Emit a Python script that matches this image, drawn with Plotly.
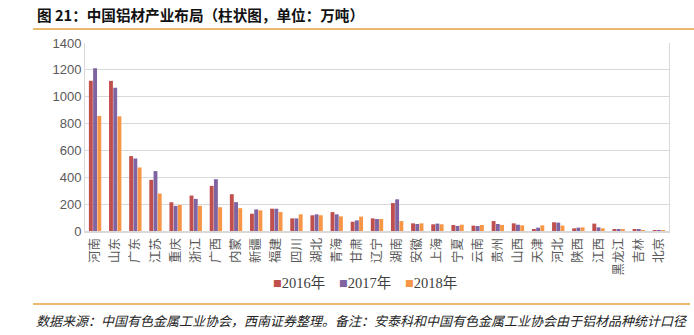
import plotly.graph_objects as go

# Aluminium product output by province (10k tonnes)
provinces = ["河南", "山东", "广东", "江苏", "重庆", "浙江", "广西", "内蒙", "新疆", "福建",
             "四川", "湖北", "青海", "甘肃", "辽宁", "湖南", "安徽", "上海", "宁夏", "云南",
             "贵州", "山西", "天津", "河北", "陕西", "江西", "黑龙江", "吉林", "北京"]
y2016 = [1118, 1118, 558, 381, 214, 264, 336, 274, 129, 166,
         94, 117, 141, 69, 94, 208, 57, 50, 45, 40,
         74, 57, 12, 65, 20, 55, 12, 15, 3]
y2017 = [1212, 1066, 540, 446, 187, 239, 386, 215, 161, 166,
         94, 124, 124, 79, 89, 236, 52, 55, 38, 37,
         52, 47, 25, 62, 25, 27, 12, 15, 3]
y2018 = [857, 854, 473, 279, 194, 187, 177, 170, 154, 141,
         124, 117, 109, 107, 89, 74, 57, 50, 47, 45,
         45, 42, 42, 40, 27, 20, 12, 7, 3]
series_names = ["2016年", "2017年", "2018年"]
series_colors = ["#C0504D", "#8064A2", "#F79646"]

W, H = 694, 335
L, R, T, B = 85, 669, 43, 231  # plot area in pixels


def px_x(px):
    return (px - L) / (R - L)


def px_y(py):
    return (B - py) / (B - T)


fig = go.Figure()
for name, vals, col in zip(series_names, [y2016, y2017, y2018], series_colors):
    fig.add_trace(go.Bar(x=provinces, y=vals, name=name, marker_color=col,
                         marker_line_width=0, showlegend=False))

accent = "#E5A23A"
shapes = [
    dict(type="line", xref="paper", yref="paper", x0=px_x(33), x1=px_x(694),
         y0=px_y(29), y1=px_y(29), line=dict(color=accent, width=1.5)),
    dict(type="line", xref="paper", yref="paper", x0=px_x(33), x1=px_x(690),
         y0=px_y(304), y1=px_y(304), line=dict(color=accent, width=1.5)),
]

annotations = [
    dict(text="<b>图 21：中国铝材产业布局（柱状图，单位：万吨）</b>", xref="paper", yref="paper",
         x=px_x(35), y=px_y(15), xanchor="left", yanchor="middle", showarrow=False,
         font=dict(family="Noto Sans CJK SC", size=14.6, color="#111111")),
    dict(text="<i>数据来源：中国有色金属工业协会，西南证券整理。备注：安泰科和中国有色金属工业协会由于铝材品种统计口径</i>",
         xref="paper", yref="paper", x=px_x(34), y=px_y(320), xanchor="left", yanchor="middle",
         showarrow=False, font=dict(family="Noto Sans CJK SC", size=13, color="#222222")),
]

# legend row: coloured square followed by series name
legend_x = [271, 337, 403]
for name, col, lx in zip(series_names, series_colors, legend_x):
    annotations.append(dict(
        text=f"<span style='color:{col}'>■</span>{name}", xref="paper", yref="paper",
        x=px_x(lx), y=px_y(283), xanchor="left", yanchor="middle", showarrow=False,
        font=dict(family="Liberation Serif, Noto Sans CJK SC", size=14.5, color="#404040")))

fig.update_layout(
    width=W, height=H,
    margin=dict(l=L, r=W - R, t=T, b=H - B),
    paper_bgcolor="white", plot_bgcolor="white",
    barmode="group", bargap=0.37, bargroupgap=0.08,
    shapes=shapes, annotations=annotations,
    showlegend=False,
)
fig.update_xaxes(
    type="category", tickangle=-90, showgrid=False, ticks="",
    showline=True, linecolor="#D9D9D9", linewidth=2,
    tickfont=dict(family="Noto Sans CJK SC", size=12.5, color="#595959"),
)
fig.update_yaxes(
    range=[0, 1400], dtick=200, showgrid=True, gridcolor="#D9D9D9", gridwidth=1,
    showline=True, linecolor="#D9D9D9", linewidth=1, mirror=True,
    zeroline=False, ticks="",
    tickfont=dict(family="Liberation Sans", size=13, color="#595959"),
)

fig.write_html("out.html")
